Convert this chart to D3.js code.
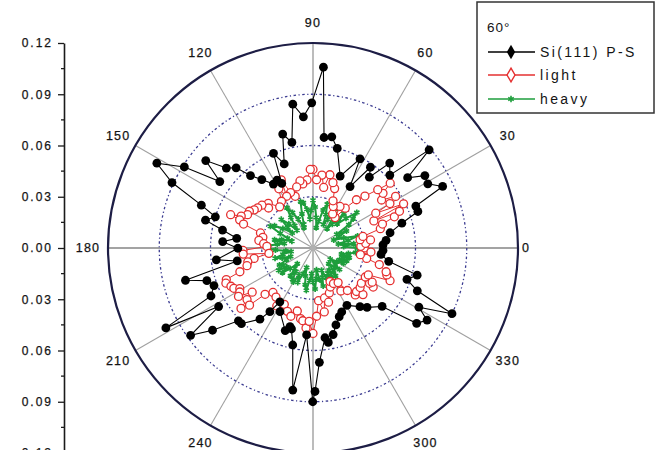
<!DOCTYPE html>
<html>
<head>
<meta charset="utf-8">
<script src="https://cdn.jsdelivr.net/npm/d3@7"></script>
<style>
  body { margin: 0; background: #fff; }
  svg { display: block; }
  text { font-family: "Liberation Sans", Arial, sans-serif; fill: #141414; }
</style>
</head>
<body>
<svg id="chart" width="656" height="450"></svg>
<script>
// ---- data -------------------------------------------------------------
const angleTicks = [0, 30, 60, 90, 120, 150, 180, 210, 240, 300, 330];
const radialTicks = [0.03, 0.06, 0.09];
const axisTicks = [-0.12, -0.09, -0.06, -0.03, 0, 0.03, 0.06, 0.09, 0.12];
const axisMinor = [-0.105, -0.075, -0.045, -0.015, 0.015, 0.045, 0.075, 0.105];

const seriesNames = ["Si(111) P-S", "light", "heavy"];
const legendTitle = "60\u00B0";

// Si(111) P-S
const siAngles = [2.5, 6, 11.2, 15.6, 19.2, 22.2, 25.4, 29.2, 32.9, 36.6, 40.2, 43.5, 47.9, 51.5, 54.6, 58.9,
  62.2, 69.3, 76.3, 80.4, 84.3, 86.7, 90.5, 94.2, 98.0, 101.3, 104.9, 108.9, 112.7, 115.8, 117.9, 121.8,
  126.8, 130.8, 133.8, 137.3, 140.8, 144.5, 147.8, 151.5, 155.1, 159.0, 162.3, 165.5, 168.8, 172.8, 176.0,
  180.2, 187.0, 189.7, 194.2, 197.1, 200.8, 205.2, 208.5, 211.8, 215.5, 219.3, 224.3, 226.6, 233.3, 235.9,
  238.4, 242.6, 251.4, 253.7, 255.1, 258.2, 261.9, 265.8, 269.9, 270.8, 273.2, 277.6, 279.2, 283.1, 286.6,
  290.9, 294.2, 300.6, 308.7, 312.3, 319.8, 324.0, 327.7, 330.8, 334.7, 337.7, 341.5, 345.4, 350.0, 354.6, 358.0];
const siValues = [0.041, 0.043, 0.046, 0.054, 0.065, 0.065, 0.084, 0.077, 0.078, 0.069, 0.089, 0.062, 0.067, 0.053, 0.058, 0.042,
  0.059, 0.045, 0.060, 0.066, 0.065, 0.106, 0.085, 0.077, 0.085, 0.063, 0.069, 0.052, 0.060, 0.042, 0.045, 0.044,
  0.050, 0.056, 0.065, 0.069, 0.081, 0.067, 0.089, 0.104, 0.091, 0.070, 0.060, 0.065, 0.054, 0.045, 0.053,
  0.044, 0.057, 0.045, 0.077, 0.065, 0.062, 0.066, 0.098, 0.065, 0.088, 0.076, 0.061, 0.061, 0.052, 0.045,
  0.037, 0.042, 0.051, 0.048, 0.049, 0.058, 0.084, 0.051, 0.090, 0.084, 0.067, 0.053, 0.056, 0.052, 0.047,
  0.043, 0.041, 0.039, 0.044, 0.047, 0.053, 0.075, 0.079, 0.071, 0.090, 0.066, 0.058, 0.063, 0.045, 0.040, 0.041];

// light
const lightAngles = [0, 2, 5, 8, 10, 13, 16, 19, 21, 23, 24, 26, 29, 30, 32, 35, 38, 40, 42, 45, 48, 51, 54, 57,
  60, 64, 67, 70, 73, 77, 80, 83, 87, 90, 92, 95, 99, 101, 105, 109, 112, 115, 117, 120, 124, 129, 135, 138,
  140, 144, 147, 150, 153, 156, 158, 159, 161, 164, 168, 172, 175, 178, 182, 185, 187, 190, 192, 195, 198,
  200, 202, 205, 207, 209, 211, 213, 216, 218, 220, 222, 224, 228, 233, 238, 243, 248, 252, 256, 260, 262,
  265, 267, 270, 273, 276, 280, 283, 286, 290, 294, 297, 300, 303, 306, 309, 312, 315, 317, 320, 324, 327,
  328, 330, 331, 334, 337, 340, 342, 346, 349, 352, 356];
const lightValues = [0.030, 0.028, 0.031, 0.034, 0.028, 0.030, 0.041, 0.043, 0.051, 0.055, 0.039, 0.059, 0.042, 0.052, 0.057, 0.049, 0.052, 0.059, 0.051, 0.043, 0.038, 0.030, 0.022, 0.029,
  0.023, 0.027, 0.030, 0.037, 0.040, 0.044, 0.036, 0.043, 0.040, 0.046, 0.046, 0.040, 0.038, 0.040, 0.037, 0.032, 0.035, 0.044, 0.034, 0.040, 0.033, 0.031, 0.037, 0.035,
  0.039, 0.040, 0.041, 0.043, 0.043, 0.046, 0.052, 0.046, 0.043, 0.032, 0.030, 0.032, 0.029, 0.027, 0.041, 0.041, 0.026, 0.035, 0.039, 0.040, 0.045,
  0.054, 0.055, 0.053, 0.052, 0.049, 0.050, 0.052, 0.044, 0.049, 0.055, 0.050, 0.039, 0.035, 0.036, 0.040, 0.037, 0.040, 0.042, 0.038, 0.042, 0.043,
  0.047, 0.043, 0.050, 0.040, 0.031, 0.038, 0.030, 0.033, 0.028, 0.025, 0.022, 0.024, 0.030, 0.025, 0.032, 0.037, 0.036, 0.040, 0.036, 0.035, 0.042,
  0.039, 0.040, 0.035, 0.036, 0.049, 0.046, 0.045, 0.040, 0.032, 0.028, 0.034];

// heavy (every 3 degrees)
const heavyAngles = d3.range(0, 360, 3);
const heavyValues = [0.026, 0.018, 0.024, 0.015, 0.021, 0.027, 0.019, 0.013, 0.017, 0.022,
  0.016, 0.025, 0.029, 0.033, 0.026, 0.020, 0.027, 0.018, 0.014, 0.022,
  0.026, 0.019, 0.015, 0.021, 0.027, 0.023, 0.016, 0.012, 0.018, 0.024,
  0.028, 0.022, 0.017, 0.023, 0.027, 0.028, 0.021, 0.015, 0.013, 0.019,
  0.024, 0.028, 0.022, 0.017, 0.014, 0.020, 0.025, 0.019, 0.015, 0.021,
  0.026, 0.028, 0.021, 0.016, 0.013, 0.019, 0.023, 0.017, 0.021, 0.026,
  0.027, 0.022, 0.016, 0.013, 0.018, 0.023, 0.019, 0.014, 0.017, 0.022,
  0.020, 0.024, 0.019, 0.023, 0.018, 0.013, 0.016, 0.021, 0.017, 0.022,
  0.023, 0.018, 0.022, 0.016, 0.012, 0.017, 0.022, 0.025, 0.019, 0.015,
  0.020, 0.024, 0.018, 0.013, 0.019, 0.023, 0.018, 0.014, 0.019, 0.022,
  0.017, 0.021, 0.016, 0.021, 0.018, 0.013, 0.017, 0.020, 0.016, 0.012,
  0.016, 0.020, 0.017, 0.021, 0.018, 0.022, 0.017, 0.021, 0.025, 0.028];

// ---- layout -------------------------------------------------------------
const svg = d3.select("#chart");
const cx = 313, cy = 248, R = 205, maxV = 0.12;
const r = d3.scaleLinear().domain([0, maxV]).range([0, R]);
const toRad = d => (90 - d) * Math.PI / 180;   // math angle -> d3 radial angle
const px = (deg, v) => r(v) * Math.cos(deg * Math.PI / 180);
const py = (deg, v) => -r(v) * Math.sin(deg * Math.PI / 180);

const plot = svg.append("g").attr("transform", `translate(${cx},${cy})`);

// spokes every 30 degrees
plot.selectAll("line.spoke").data(d3.range(0, 360, 30)).join("line")
  .attr("x1", 0).attr("y1", 0)
  .attr("x2", d => px(d, maxV))
  .attr("y2", d => py(d, maxV))
  .attr("stroke", d => d % 90 === 0 ? "#858585" : "#a0a0a0")
  .attr("stroke-width", d => d % 180 === 0 ? 1.4 : 1.1);

// dash-dot reference circles
plot.selectAll("circle.ring").data(radialTicks).join("circle")
  .attr("r", d => r(d)).attr("fill", "none")
  .attr("stroke", "#3a3a90").attr("stroke-width", 1.3)
  .attr("stroke-dasharray", "2.5,2.5,1.2,2.5");

// outer boundary
plot.append("circle").attr("r", r(maxV)).attr("fill", "none")
  .attr("stroke", "#1d1d45").attr("stroke-width", 2.2);

plot.append("circle").attr("r", 3).attr("fill", "#b0b0b0");

// ---- series ----------------------------------------------------------
const radial = (angles, values) => d3.lineRadial()
  .angle((d, i) => toRad(angles[i])).radius((d, i) => r(values[i]))(values);

// heavy
plot.append("path").attr("d", radial(heavyAngles, heavyValues))
  .attr("fill", "none").attr("stroke", "#1e9e3c").attr("stroke-width", 2);
plot.selectAll("path.hv").data(heavyValues).join("path")
  .attr("d", d3.symbol(d3.symbolAsterisk, 26))
  .attr("transform", (d, i) => `translate(${px(heavyAngles[i], d)},${py(heavyAngles[i], d)})`)
  .attr("fill", "none").attr("stroke", "#1e9e3c").attr("stroke-width", 1.7);

// light
plot.append("path").attr("d", radial(lightAngles, lightValues))
  .attr("fill", "none").attr("stroke", "#e53030").attr("stroke-width", 1);
plot.selectAll("circle.lt").data(lightValues).join("circle")
  .attr("cx", (d, i) => px(lightAngles[i], d))
  .attr("cy", (d, i) => py(lightAngles[i], d))
  .attr("r", 4).attr("fill", "#fff").attr("stroke", "#e53030").attr("stroke-width", 1.3);

// Si(111) P-S
plot.append("path").attr("d", radial(siAngles, siValues))
  .attr("fill", "none").attr("stroke", "#000").attr("stroke-width", 1.1);
plot.selectAll("circle.si").data(siValues).join("circle")
  .attr("cx", (d, i) => px(siAngles[i], d))
  .attr("cy", (d, i) => py(siAngles[i], d))
  .attr("r", 4.4).attr("fill", "#000");

// ---- angle labels ----------------------------------------------------
svg.selectAll("text.ang").data(angleTicks).join("text")
  .attr("x", d => cx + (d === 0 ? 213 : 225) * Math.cos(d * Math.PI / 180))
  .attr("y", d => cy - 225 * Math.sin(d * Math.PI / 180))
  .attr("text-anchor", "middle").attr("dominant-baseline", "central")
  .attr("font-size", 12.5).attr("letter-spacing", 1.2)
  .attr("stroke", "#141414").attr("stroke-width", 0.25)
  .text(d => d);

// ---- left value axis ---------------------------------------------------
const y = d3.scaleLinear().domain([-maxV, maxV]).range([cy + R, cy - R]);
const axisG = svg.append("g").attr("transform", "translate(64,0)")
  .call(d3.axisLeft(y).tickValues(axisTicks).tickSize(6).tickSizeOuter(0).tickPadding(5)
    .tickFormat(d => Math.abs(d).toFixed(2)));
axisG.select(".domain").attr("stroke", "#1a1a1a").attr("stroke-width", 1.6);
axisG.selectAll(".tick line").attr("stroke", "#1a1a1a").attr("stroke-width", 1.3);
axisG.selectAll(".tick text").attr("font-size", 12).attr("letter-spacing", 2)
  .attr("font-family", "'Liberation Sans', Arial, sans-serif").attr("fill", "#141414")
  .attr("stroke", "#141414").attr("stroke-width", 0.25);
axisG.selectAll("line.minor").data(axisMinor).join("line")
  .attr("x1", -3).attr("x2", 0).attr("y1", d => y(d)).attr("y2", d => y(d))
  .attr("stroke", "#1a1a1a").attr("stroke-width", 1.3);

// ---- legend -----------------------------------------------------------
const lg = svg.append("g");
lg.append("rect").attr("x", 477).attr("y", 2).attr("width", 177).attr("height", 111)
  .attr("fill", "#fff").attr("stroke", "#333").attr("stroke-width", 1.5);
lg.append("text").attr("x", 487).attr("y", 32).attr("font-size", 13.5).attr("letter-spacing", 1)
  .text(legendTitle);
const legendColors = ["#000", "#e53030", "#1e9e3c"];
const legendY = [52, 75, 99];
seriesNames.forEach((name, i) => {
  const yy = legendY[i];
  lg.append("line").attr("x1", 488).attr("x2", 535).attr("y1", yy).attr("y2", yy)
    .attr("stroke", legendColors[i]).attr("stroke-width", 1.4);
  const sym = lg.append("path").attr("transform", `translate(511,${yy})`);
  if (i === 0) sym.attr("d", d3.symbol(d3.symbolDiamond, 60)).attr("fill", "#000");
  else if (i === 1) sym.attr("d", d3.symbol(d3.symbolDiamond, 55)).attr("fill", "#fff")
    .attr("stroke", legendColors[i]).attr("stroke-width", 1.4);
  else sym.attr("d", d3.symbol(d3.symbolAsterisk, 28)).attr("fill", "none")
    .attr("stroke", legendColors[i]).attr("stroke-width", 1.6);
  lg.append("text").attr("x", 540).attr("y", yy + 5).attr("font-size", 14)
    .attr("letter-spacing", 2.4).text(name);
});
</script>
</body>
</html>
